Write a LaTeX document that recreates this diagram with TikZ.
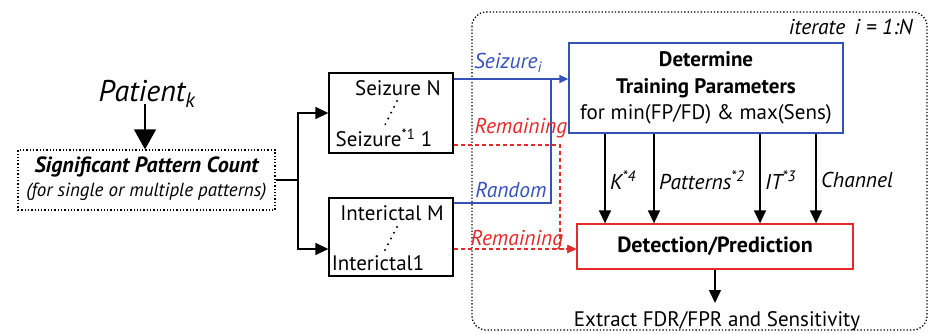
\documentclass[tikz,border=0pt]{standalone}
\usepackage{fontspec}
\setmainfont{PT Sans}
\usetikzlibrary{arrows.meta,positioning,calc}
\definecolor{clTrain}{RGB}{52,82,186}
\definecolor{clRest}{RGB}{230,42,42}
\tikzset{
  box/.style={rectangle, draw, line width=1.3pt, align=center, inner sep=0pt},
  train/.style={box, draw=clTrain},
  detect/.style={box, draw=clRest},
  txt/.style={font=\fontsize{21}{26.5}\selectfont, inner sep=0pt, align=center},
  flow/.style={-{Triangle[length=13pt,width=12pt]}, line width=1.4pt},
  bigflow/.style={-{Triangle[length=20pt,width=22pt]}, line width=1.6pt},
  trainflow/.style={-{Triangle[length=9pt,width=8pt]}, line width=1.4pt, draw=clTrain},
  restflow/.style={-{Triangle[length=9pt,width=8pt]}, line width=1.4pt, draw=clRest,
                   dash pattern=on 4pt off 3pt},
  flowlabel/.style={font=\fontsize{21.5}{24}\selectfont\itshape, inner sep=0pt},
  dots/.style={line width=2.2pt, line cap=round, dash pattern=on 0pt off 6.5pt},
}

\begin{document}
\begin{tikzpicture}[x=1pt, y=-1pt]
  \useasboundingbox (0,0) rectangle (929,333);
  % iteration frame
  \draw[dotted, line width=1.3pt, rounded corners=14pt] (472,12) rectangle (927,330);
  \node[flowlabel, anchor=east] (iter) at (913,27) {iterate \,i = 1:N};

  % patient and pattern count
  \node[font=\fontsize{30}{32}\selectfont\itshape, inner sep=0pt] (patient) at (147,94)
    {Patient\textsubscript{k}};
  \node[box, dotted, minimum width=257pt, minimum height=60pt] (spc) at (146.5,180) {};
  \node[txt, font=\fontsize{22}{24}\selectfont\bfseries\itshape] at (146.5,167) {Significant Pattern Count};
  \node[txt, font=\fontsize{19}{22}\selectfont\itshape] at (146.5,192) {(for single or multiple patterns)};
  \coordinate (pk) at (145,104);
  \draw[bigflow] (pk) -- (pk |- spc.north);

  % seizure / interictal sets
  \node[box, minimum width=124pt, minimum height=80pt] (seiz) at (391,113) {};
  \node[txt] (seizN) at (398,88) {Seizure N};
  \node[txt] (seiz1) at (384,138) {Seizure\textsuperscript{*1} 1};
  \draw[dots] (397,101) -- (384,127);
  \node[box, minimum width=124pt, minimum height=78pt] (inter) at (391,237) {};
  \node[txt] (interM) at (392,213) {Interictal M};
  \node[txt] (inter1) at (378,263) {Interictal1};
  \draw[dots] (397,227) -- (384,252);

  \coordinate (fork) at (298,180);
  \draw[line width=1.4pt] (spc.east) -- (fork);
  \draw[flow] (fork) |- (seiz.west);
  \draw[flow] (fork) |- (inter.west |- 0,249);

  % training and detection
  \node[train, txt, minimum width=274pt, minimum height=90pt] (train) at (706,88)
    {\textbf{Determine}\\\textbf{Training Parameters}\\for min(FP/FD) \& max(Sens)};
  \node[detect, txt, font=\fontsize{22}{24}\selectfont\bfseries,
        minimum width=276pt, minimum height=45pt] (detect) at (715,246.5) {Detection/Prediction};
  \node[txt] (extract) at (717,321) {Extract FDR/FPR and Sensitivity};

  % seizure_i and random to training
  \coordinate (join) at (551,79);
  \draw[trainflow] (seiz.east |- join) -- (train.west |- join);
  \draw[line width=1.4pt, draw=clTrain] (inter.east |- 0,203) -| (join);
  \node[flowlabel, text=clTrain] (seizi) at (508,63) {Seizure\textsubscript{i}};
  \node[flowlabel, text=clTrain] (rand) at (511,190) {Random};

  % remaining to detection
  \coordinate (drop) at (560,249);
  \draw[restflow] (seiz.east |- 0,145) -| (drop) -- (detect.west |- drop);
  \draw[restflow] (inter.east |- drop) -- (detect.west |- drop);
  \node[flowlabel, text=clRest] (rem1) at (521,128) {Remaining};
  \node[flowlabel, text=clRest] (rem2) at (517,240) {Remaining};

  % parameters
  \foreach \px/\lbl in {605/K\textsuperscript{*4}, 654/Patterns\textsuperscript{*2},
                        760/IT\textsuperscript{*3}, 816/Channel} {
    \draw[flow] (train.south -| \px,0) -- (detect.north -| \px,0);
    \node[flowlabel, anchor=west] at (\px+5,180) {\lbl};
  }
  \draw[flow] (detect.south) -- (715,303);
\end{tikzpicture}
\end{document}
